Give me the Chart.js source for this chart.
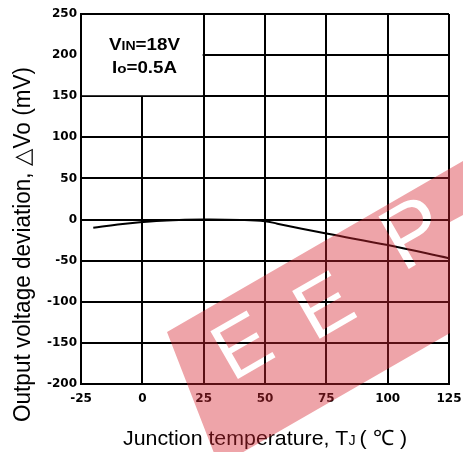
<!DOCTYPE html>
<html lang="en">
<head>
<meta charset="UTF-8" />
<title>Output voltage deviation vs junction temperature</title>
<script src="https://cdn.jsdelivr.net/npm/chart.js"></script>
<style>
  * { margin: 0; padding: 0; box-sizing: border-box; }
  body { background: #fff; width: 463px; height: 452px; overflow: hidden; }
  .chart-box { position: relative; width: 463px; height: 452px; }
</style>
</head>
<body>
<div class="chart-box"><canvas id="tempChart"></canvas></div>
<script>
  // values
  const tempC   = [-20, -10,  0, 10, 25,   40, 50, 55,  75, 100, 125];
  const deltaVo = [-10,  -6, -3, -1,  0, -0.5, -2, -5, -17, -31, -47];
  const xTicks = [-25, 0, 25, 50, 75, 100, 125];
  const yTicks = [-200, -150, -100, -50, 0, 50, 100, 150, 200, 250];

  const FONT = '"Liberation Sans", Arial, sans-serif';
  const TICK_FONT = '"DejaVu Sans", sans-serif';

  // draws a list of [text, size] parts in a row, stretched to a target width
  function drawParts(ctx, parts, x, y, targetW, weight) {
    let w = 0;
    parts.forEach(p => { ctx.font = weight + ' ' + p[1] + 'px ' + FONT; w += ctx.measureText(p[0]).width + (p[2] || 0); });
    ctx.save();
    ctx.translate(x, y);
    ctx.scale(targetW / w, 1);
    let px = 0;
    parts.forEach(p => {
      ctx.font = weight + ' ' + p[1] + 'px ' + FONT;
      ctx.fillText(p[0], px, 0);
      px += ctx.measureText(p[0]).width + (p[2] || 0);
    });
    ctx.restore();
  }

  // white box with the test conditions, top-left corner of the grid
  const condBox = {
    id: 'condBox',
    beforeDatasetsDraw(chart) {
      const { ctx, scales: { x, y } } = chart;
      const l = x.getPixelForValue(-25), r = x.getPixelForValue(25);
      const t = y.getPixelForValue(250), b = y.getPixelForValue(150);
      ctx.save();
      ctx.fillStyle = '#fff';
      ctx.fillRect(l + 1, t + 1, r - l - 2, b - t - 2);
      ctx.fillStyle = '#000';
      ctx.textBaseline = 'alphabetic';
      drawParts(ctx, [['V', 16], ['IN', 12], ['=18V', 16]], l + 28, t + 36, 71, 'bold');
      drawParts(ctx, [['I', 16], ['o', 13], ['=0.5A', 16]], l + 31, t + 59, 65, 'bold');
      ctx.restore();
    }
  };

  // axis titles
  const axisTitles = {
    id: 'axisTitles',
    afterDraw(chart) {
      const { ctx } = chart;
      ctx.save();
      ctx.fillStyle = '#000';
      ctx.textBaseline = 'alphabetic';
      ctx.translate(30, 422);
      ctx.rotate(-Math.PI / 2);
      drawParts(ctx, [['Output voltage deviation, \u25B3Vo (mV)', 23]], 0, 0, 355, 'normal');
      ctx.restore();

      ctx.save();
      ctx.fillStyle = '#000';
      ctx.textBaseline = 'alphabetic';
      drawParts(ctx, [['Junction temperature, T', 21], ['J', 14, 4], ['( \u2103 )', 21]], 123, 445, 284, 'normal');
      ctx.restore();
    }
  };

  // red watermark band with letters knocked out
  const watermark = {
    id: 'watermark',
    afterDraw(chart) {
      const dpr = chart.currentDevicePixelRatio;
      const off = document.createElement('canvas');
      off.width = chart.canvas.width;
      off.height = chart.canvas.height;
      const o = off.getContext('2d');
      o.scale(dpr, dpr);
      o.fillStyle = 'rgb(215,40,50)';
      o.beginPath();
      o.moveTo(167, 332);
      o.lineTo(463, 161);
      o.lineTo(463, 215);
      o.lineTo(450, 222);
      o.lineTo(450, 333);
      o.lineTo(219, 466);
      o.closePath();
      o.fill();
      o.globalCompositeOperation = 'destination-out';
      o.translate(167, 332);
      o.rotate(-Math.PI / 6);
      o.textAlign = 'center';
      o.textBaseline = 'middle';
      o.font = '80px ' + FONT;
      o.fillText('E', 58, 54);
      o.fillText('E', 149, 60);
      o.font = '88px ' + FONT;
      o.fillText('P', 263, 42);
      const { ctx } = chart;
      ctx.save();
      ctx.globalAlpha = 0.42;
      ctx.drawImage(off, 0, 0, chart.width, chart.height);
      ctx.restore();
    }
  };

  new Chart(document.getElementById('tempChart'), {
    type: 'line',
    data: {
      datasets: [{
        data: tempC.map((t, i) => ({ x: t, y: deltaVo[i] })),
        borderColor: '#000',
        borderWidth: 2,
        pointRadius: 0,
        tension: 0.4,
        fill: false
      }]
    },
    options: {
      responsive: true,
      maintainAspectRatio: false,
      animation: false,
      devicePixelRatio: 1,
      layout: { padding: { left: 0, right: 14, top: 14, bottom: 38 } },
      plugins: { legend: { display: false }, tooltip: { enabled: false } },
      scales: {
        x: {
          type: 'linear',
          min: -25, max: 125,
          afterBuildTicks: s => { s.ticks = xTicks.map(v => ({ value: v })); },
          afterFit: s => { s.height = 30; s.paddingLeft = 0; s.paddingRight = 0; },
          grid: { color: '#000', lineWidth: 2, drawTicks: false },
          border: { color: '#000', width: 2 },
          ticks: { color: '#000', padding: 8, maxRotation: 0, font: { family: TICK_FONT, size: 12, weight: 'bold' } }
        },
        y: {
          type: 'linear',
          min: -200, max: 250,
          afterBuildTicks: s => { s.ticks = yTicks.map(v => ({ value: v })); },
          afterFit: s => { s.width = 81; s.paddingTop = 0; s.paddingBottom = 0; },
          grid: { color: '#000', lineWidth: 2, drawTicks: false },
          border: { color: '#000', width: 2 },
          ticks: { color: '#000', padding: 4, font: { family: TICK_FONT, size: 12, weight: 'bold' } }
        }
      }
    },
    plugins: [condBox, axisTitles, watermark]
  });
</script>
</body>
</html>
